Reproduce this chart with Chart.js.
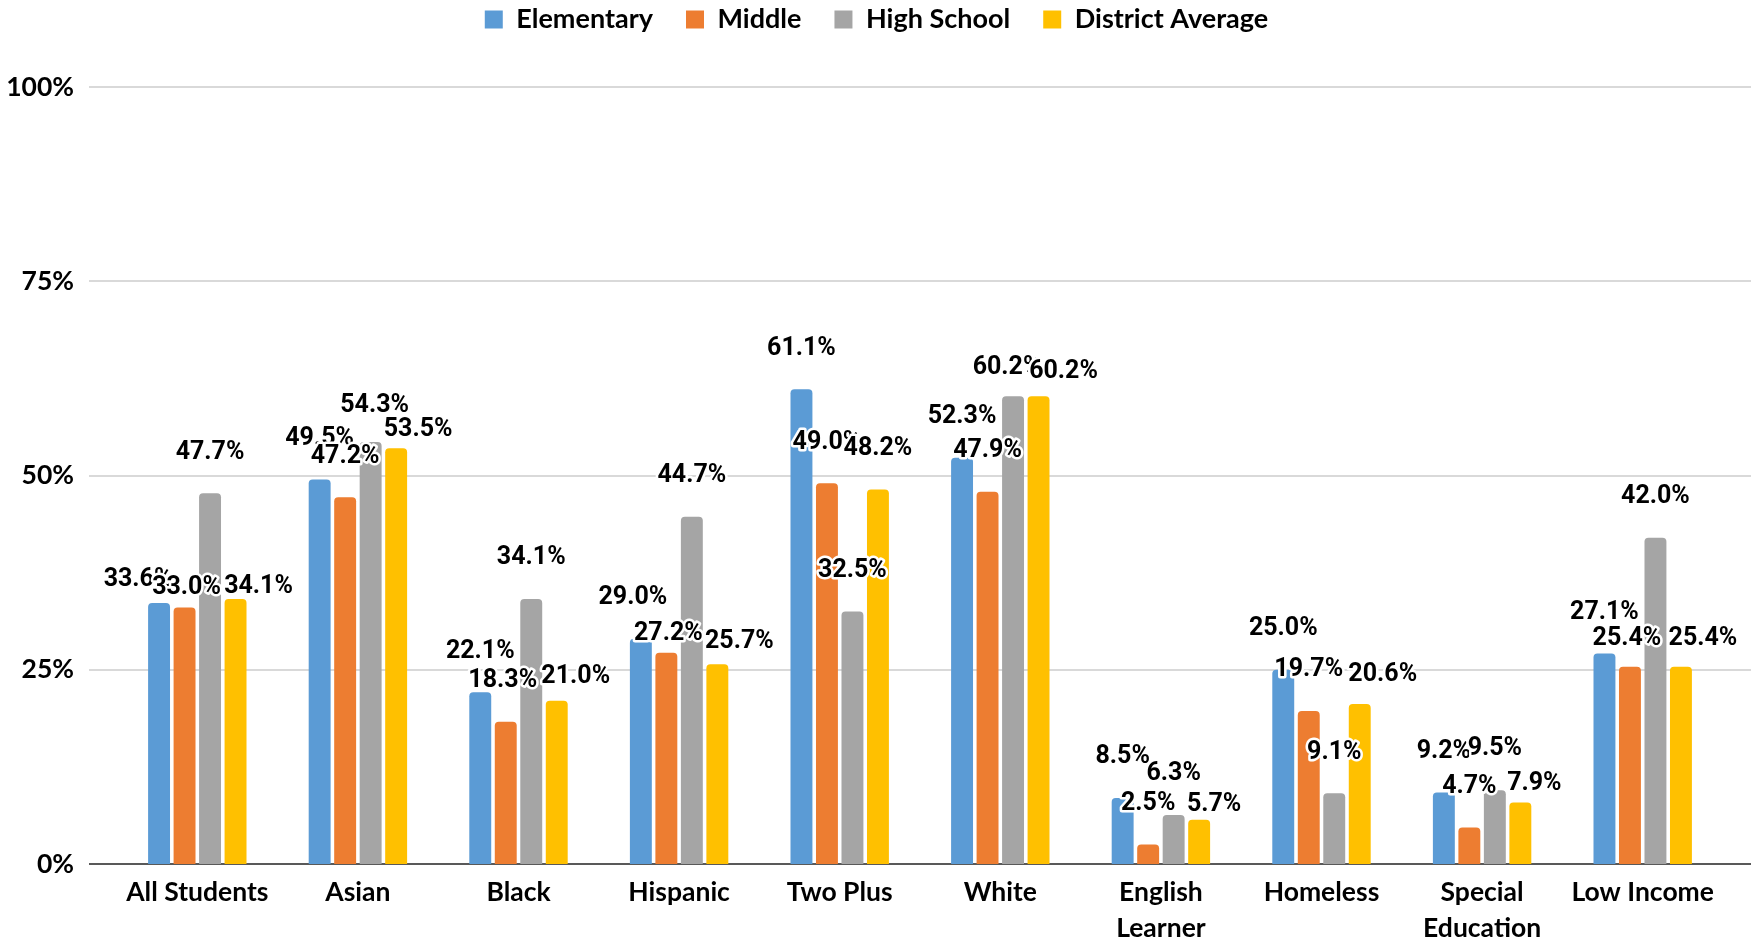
<!DOCTYPE html>
<html>
<head>
<meta charset="utf-8">
<script src="https://cdn.jsdelivr.net/npm/chart.js@4.4.0/dist/chart.umd.min.js"></script>
<style>
  html, body { margin: 0; padding: 0; background: #fff; }
  #wrap { width: 1757px; height: 940px; position: relative; }
</style>
</head>
<body>
<div id="wrap"><canvas id="chart"></canvas></div>
<script>
// categories and series values (percent)
const categories = ['All Students', 'Asian', 'Black', 'Hispanic', 'Two Plus', 'White',
    ['English', 'Learner'], 'Homeless', ['Special', 'Education'], 'Low Income'];
const elementary = [33.6, 49.5, 22.1, 29.0, 61.1, 52.3, 8.5, 25.0, 9.2, 27.1];
const middle = [33.0, 47.2, 18.3, 27.2, 49.0, 47.9, 2.5, 19.7, 4.7, 25.4];
const highSchool = [47.7, 54.3, 34.1, 44.7, 32.5, 60.2, 6.3, 9.1, 9.5, 42.0];
const districtAvg = [34.1, 53.5, 21.0, 25.7, 48.2, 60.2, 5.7, 20.6, 7.9, 25.4];
const yTicks = [0, 25, 50, 75, 100];

// small nudges for labels that would collide (per category: blue, orange, gray, yellow)
const labelNudge = [
    [[-21, 18], [2, 21], [0, 0], [23, 29]],
    [[0, 0], [0, 0], [4, 5], [22, 22]],
    [[0, 0], [-3, 0], [0, 0], [19, 17]],
    [[-8, 0], [2, 22], [0, 0], [22, 18]],
    [[0, 0], [0, 0], [0, 0], [0, 0]],
    [[0, 0], [0, 0], [-6, 13], [25, 17]],
    [[0, 0], [0, 0], [0, 0], [15, 26]],
    [[0, 0], [0, 0], [0, 0], [23, 12]],
    [[0, 0], [0, 0], [0, 0], [14, 22]],
    [[0, 0], [-3, 13], [0, 0], [22, 13]]
];

// legend gets a fixed height so the plot starts lower
const legendHeight = {
    id: 'legendHeight',
    beforeLayout(chart) {
        const lg = chart.legend;
        if (lg && !lg._patched) {
            const fit = lg.fit;
            lg.fit = function () {
                fit.call(this);
                this.height = 114;
            };
            lg._patched = true;
        }
    },
    afterLayout(chart) {
        // center legend on the whole canvas, not just the padded box
        chart.legend.left += 15;
        chart.legend.right += 15;
    }
};

// gridlines + axis line, drawn a bit wider than the category range
const gridPlugin = {
    id: 'wideGrid',
    beforeDatasetsDraw(chart) {
        const ctx = chart.ctx;
        const y = chart.scales.y;
        const left = chart.chartArea.left - 28;
        const right = chart.chartArea.right + 28;
        ctx.save();
        yTicks.forEach(t => {
            const py = Math.round(y.getPixelForValue(t));
            ctx.beginPath();
            ctx.strokeStyle = t === 0 ? '#595959' : '#d9d9d9';
            ctx.lineWidth = 2;
            ctx.moveTo(left, py);
            ctx.lineTo(right, py);
            ctx.stroke();
        });
        ctx.restore();
    }
};

// value labels with white halo, above each bar
const labelPlugin = {
    id: 'valueLabels',
    afterDatasetsDraw(chart) {
        const ctx = chart.ctx;
        ctx.save();
        ctx.font = 'bold 25px Roboto';
        ctx.textAlign = 'center';
        ctx.textBaseline = 'middle';
        ctx.lineJoin = 'round';
        chart.data.datasets.forEach((ds, i) => {
            chart.getDatasetMeta(i).data.forEach((bar, j) => {
                const txt = ds.data[j].toFixed(1) + '%';
                const n = labelNudge[j][i];
                const x = bar.x + n[0];
                const y = bar.y - 41 + n[1];
                ctx.strokeStyle = '#fff';
                ctx.lineWidth = 5;
                ctx.strokeText(txt, x, y);
                ctx.fillStyle = '#000';
                ctx.fillText(txt, x, y);
            });
        });
        ctx.restore();
    }
};

const ctx = document.getElementById('chart').getContext('2d');
const chart = new Chart(ctx, {
    type: 'bar',
    data: {
        labels: categories,
        datasets: [
            { label: 'Elementary', data: elementary, backgroundColor: '#5B9BD5' },
            { label: 'Middle', data: middle, backgroundColor: '#ED7D31' },
            { label: 'High School', data: highSchool, backgroundColor: '#A5A5A5' },
            { label: 'District Average', data: districtAvg, backgroundColor: '#FFC000' }
        ]
    },
    options: {
        responsive: true,
        maintainAspectRatio: false,
        animation: false,
        layout: {
            padding: { left: 0, right: 34, top: -27, bottom: 0 }
        },
        datasets: {
            bar: {
                categoryPercentage: 0.635,
                barPercentage: 0.86,
                borderRadius: 4
            }
        },
        plugins: {
            legend: {
                position: 'top',
                labels: {
                    color: '#000',
                    boxWidth: 18,
                    boxHeight: 18,
                    padding: 33,
                    font: { family: 'Lato', weight: 'bold', size: 27 }
                }
            },
            tooltip: { enabled: false }
        },
        scales: {
            x: {
                grid: { display: false },
                border: { display: false },
                ticks: {
                    color: '#000',
                    padding: 3,
                    maxRotation: 0,
                    autoSkip: false,
                    font: { family: 'Lato', weight: 'bold', size: 26.5, lineHeight: 1.35 }
                },
                afterFit(s) { s.height = 76; }
            },
            y: {
                min: 0,
                max: 100,
                grid: { display: false },
                border: { display: false },
                ticks: {
                    stepSize: 25,
                    color: '#000',
                    padding: 35,
                    font: { family: 'Lato', weight: 'bold', size: 26.5 },
                    callback: v => v + '%'
                },
                afterFit(s) { s.width = 117; }
            }
        }
    },
    plugins: [legendHeight, gridPlugin, labelPlugin]
});
</script>
</body>
</html>
